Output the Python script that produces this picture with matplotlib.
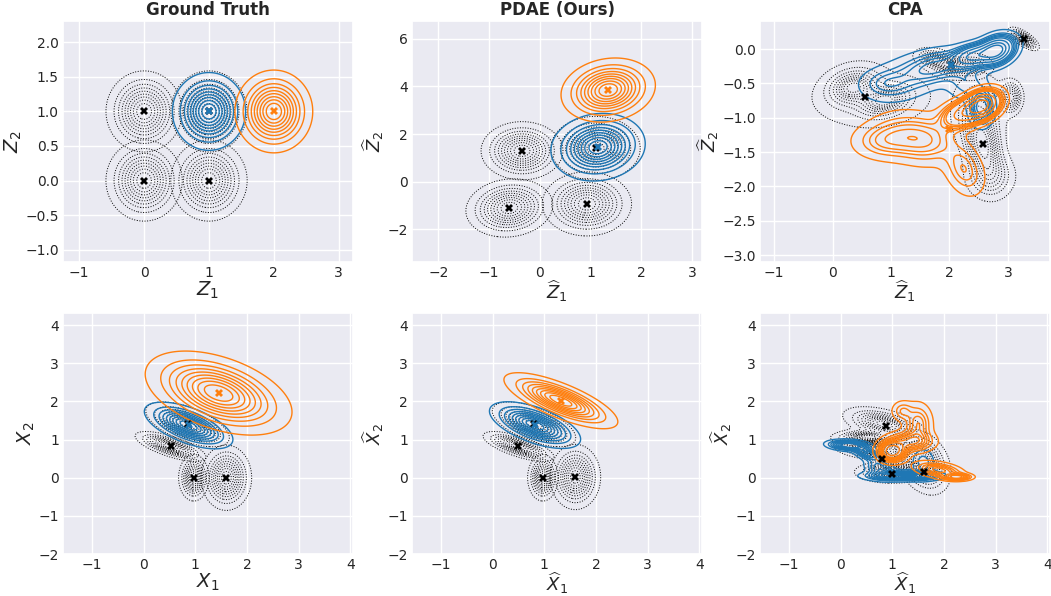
import numpy as np
import matplotlib
matplotlib.use('Agg')
import matplotlib.pyplot as plt
import seaborn as sns

# Mixture components per cluster: (cx, cy, sx, sy, rho, weight)
# --- latent space, ground truth
gtz_black = [
    [(0.0, 1.0, 0.24, 0.24, 0.0, 1.0)],
    [(0.0, 0.0, 0.24, 0.24, 0.0, 1.0)],
    [(1.0, 0.0, 0.24, 0.24, 0.0, 1.0)],
    [(1.0, 1.0, 0.24, 0.24, 0.0, 1.0)],
]
gtz_blue = [(1.0, 1.0, 0.23, 0.23, 0.0, 1.0)]
gtz_orange = [(2.0, 1.0, 0.245, 0.245, 0.0, 1.0)]
gtz_marks_black = [(0, 1), (0, 0), (1, 0), (1, 1)]
gtz_mark_blue = (1.0, 1.0)
gtz_mark_orange = (2.0, 1.0)

# --- latent space, PDAE
pdz_black = [
    [(-0.35, 1.30, 0.33, 0.50, 0.0, 1.0)],
    [(-0.60, -1.10, 0.35, 0.50, 0.1, 1.0)],
    [(0.93, -0.93, 0.36, 0.55, 0.0, 1.0)],
    [(1.10, 1.40, 0.36, 0.55, 0.0, 1.0)],
]
pdz_blue = [(1.15, 1.45, 0.38, 0.58, 0.1, 1.0)]
pdz_orange = [(1.35, 3.85, 0.38, 0.55, 0.15, 1.0)]
pdz_marks_black = [(-0.35, 1.30), (-0.60, -1.10), (0.93, -0.93), (1.10, 1.40)]
pdz_mark_blue = (1.15, 1.45)
pdz_mark_orange = (1.35, 3.85)

# --- latent space, CPA
cpz_black = [
    [(0.35, -0.55, 0.25, 0.15, 0.2, 1.0), (0.90, -0.75, 0.25, 0.13, 0.3, 0.8),
     (0.70, -0.75, 0.55, 0.22, 0.1, 0.6)],
    [(3.27, 0.15, 0.11, 0.07, -0.7, 1.0)],
    [(1.75, -0.15, 0.15, 0.07, -0.3, 1.0), (2.05, -0.25, 0.15, 0.07, 0.0, 1.0),
     (2.40, -0.25, 0.15, 0.08, 0.0, 0.8), (2.10, -0.30, 0.40, 0.15, 0.0, 0.3)],
    [(2.57, -1.40, 0.17, 0.28, -0.3, 1.0), (2.50, -0.90, 0.25, 0.30, 0.0, 0.6),
     (3.05, -0.70, 0.10, 0.12, 0.0, 0.2), (2.70, -1.85, 0.22, 0.18, 0.0, 0.35)],
]
cpz_blue = [
    (2.80, -0.02, 0.18, 0.12, 0.3, 1.0), (2.40, -0.10, 0.20, 0.10, 0.3, 0.6),
    (1.80, -0.25, 0.35, 0.15, 0.3, 0.6), (1.20, -0.45, 0.40, 0.20, 0.3, 0.45),
    (2.55, -0.85, 0.12, 0.15, 0.0, 0.35), (2.30, -0.50, 0.20, 0.15, 0.0, 0.2),
    (0.90, -0.50, 0.25, 0.12, 0.0, 0.15),
]
cpz_orange = [
    (2.55, -0.82, 0.18, 0.12, 0.3, 1.0), (2.20, -0.95, 0.20, 0.12, 0.3, 0.5),
    (1.20, -1.25, 0.35, 0.20, 0.0, 0.5), (1.65, -1.35, 0.30, 0.20, 0.0, 0.4),
    (2.25, -1.75, 0.20, 0.22, -0.3, 0.3), (0.80, -1.35, 0.30, 0.15, 0.0, 0.2),
]
cpz_marks_black = [(0.55, -0.70), (3.27, 0.15), (2.02, -0.23), (2.57, -1.38)]
cpz_mark_blue = (2.02, -0.23)
cpz_mark_orange = (2.00, -1.17)

# --- observed space, ground truth
gtx_black = [
    [(0.52, 0.82, 0.28, 0.16, -0.7, 1.0)],
    [(0.97, 0.00, 0.12, 0.25, 0.0, 1.0)],
    [(1.60, 0.00, 0.20, 0.35, 0.0, 1.0)],
    [(0.85, 1.40, 0.33, 0.24, -0.6, 1.0)],
]
gtx_blue = [(0.87, 1.37, 0.35, 0.25, -0.6, 1.0)]
gtx_orange = [(1.45, 2.22, 0.58, 0.45, -0.45, 1.0)]
gtx_marks_black = [(0.52, 0.82), (0.97, 0.0), (1.60, 0.0), (0.85, 1.40)]
gtx_mark_blue = (0.87, 1.37)
gtx_mark_orange = (1.45, 2.22)

# --- observed space, PDAE
pdx_black = [
    [(0.50, 0.82, 0.28, 0.16, -0.7, 1.0)],
    [(0.97, 0.00, 0.12, 0.25, 0.0, 1.0)],
    [(1.60, 0.02, 0.20, 0.35, 0.0, 1.0)],
    [(0.80, 1.40, 0.33, 0.24, -0.6, 1.0)],
]
pdx_blue = [(0.82, 1.38, 0.36, 0.25, -0.6, 1.0)]
pdx_orange = [(1.32, 2.02, 0.45, 0.30, -0.75, 1.0)]
pdx_marks_black = [(0.50, 0.82), (0.97, 0.0), (1.60, 0.02), (0.80, 1.40)]
pdx_mark_blue = (0.82, 1.38)
pdx_mark_orange = (1.32, 2.02)

# --- observed space, CPA
cpx_black = [
    [(0.85, 1.40, 0.35, 0.20, -0.5, 1.0), (0.50, 1.05, 0.30, 0.10, 0.0, 0.5)],
    [(0.60, 0.75, 0.30, 0.12, -0.3, 1.0)],
    [(1.00, 0.15, 0.30, 0.12, 0.0, 1.0)],
    [(1.60, 0.40, 0.22, 0.35, -0.3, 1.0)],
]
cpx_blue = [
    (0.15, 0.85, 0.20, 0.07, -0.2, 0.8), (0.50, 0.65, 0.15, 0.12, -0.6, 0.5),
    (0.75, 0.25, 0.15, 0.15, -0.3, 0.5), (1.00, 0.05, 0.30, 0.07, 0.0, 0.8),
    (1.50, 0.05, 0.25, 0.07, 0.0, 0.6), (1.60, 0.40, 0.12, 0.20, 0.0, 0.3),
]
cpx_orange = [
    (1.00, 0.70, 0.15, 0.15, 0.0, 1.0), (1.35, 0.95, 0.25, 0.15, 0.0, 0.7),
    (1.50, 1.40, 0.15, 0.30, 0.0, 0.6), (1.90, 0.20, 0.25, 0.12, -0.4, 0.5),
    (2.25, 0.02, 0.15, 0.05, 0.0, 0.2), (1.20, 1.75, 0.12, 0.15, 0.0, 0.15),
]
cpx_marks_black = [(0.87, 1.35), (0.80, 0.50), (1.00, 0.10), (1.62, 0.15)]

titles = ['Ground Truth', 'PDAE (Ours)', 'CPA']
xlabels = ['$Z_1$', r'$\widehat{Z}_1$', r'$\widehat{Z}_1$',
           '$X_1$', r'$\widehat{X}_1$', r'$\widehat{X}_1$']
ylabels = ['$Z_2$', r'$\widehat{Z}_2$', r'$\widehat{Z}_2$',
           '$X_2$', r'$\widehat{X}_2$', r'$\widehat{X}_2$']
limits = [
    ((-1.25, 3.22), (-1.18, 2.31)),
    ((-2.52, 3.2), (-3.37, 6.75)),
    ((-1.24, 3.72), (-3.10, 0.41)),
    ((-1.56, 4.05), (-2.0, 4.32)),
    ((-1.56, 4.05), (-2.0, 4.32)),
    ((-1.56, 4.05), (-2.0, 4.32)),
]
yticks = [
    [-1.0, -0.5, 0.0, 0.5, 1.0, 1.5, 2.0],
    [-2, 0, 2, 4, 6],
    [-3.0, -2.5, -2.0, -1.5, -1.0, -0.5, 0.0],
    [-2, -1, 0, 1, 2, 3, 4],
    [-2, -1, 0, 1, 2, 3, 4],
    [-2, -1, 0, 1, 2, 3, 4],
]

panels = [
    (gtz_black, gtz_blue, gtz_orange, gtz_marks_black, gtz_mark_blue, gtz_mark_orange),
    (pdz_black, pdz_blue, pdz_orange, pdz_marks_black, pdz_mark_blue, pdz_mark_orange),
    (cpz_black, cpz_blue, cpz_orange, cpz_marks_black, cpz_mark_blue, cpz_mark_orange),
    (gtx_black, gtx_blue, gtx_orange, gtx_marks_black, gtx_mark_blue, gtx_mark_orange),
    (pdx_black, pdx_blue, pdx_orange, pdx_marks_black, pdx_mark_blue, pdx_mark_orange),
    (cpx_black, cpx_blue, cpx_orange, cpx_marks_black, None, None),
]

BLUE = '#1f77b4'
ORANGE = '#ff7f0e'


def mixture(X, Y, comps):
    d = np.zeros_like(X)
    for cx, cy, sx, sy, rho, w in comps:
        u = (X - cx) / sx
        v = (Y - cy) / sy
        q = (u * u - 2 * rho * u * v + v * v) / (1 - rho * rho)
        d += w * np.exp(-0.5 * q) / (2 * np.pi * sx * sy * np.sqrt(1 - rho * rho))
    return d


def iso_levels(d, n=10, thresh=0.05):
    # same iso-proportion rule as seaborn's kdeplot
    props = np.linspace(thresh, 1, n)
    vals = np.sort(d.ravel())[::-1]
    cum = np.cumsum(vals) / vals.sum()
    idx = np.searchsorted(cum, 1 - props)
    lv = np.take(vals, idx, mode='clip')
    return np.unique(lv[lv > 0])


def draw_kde(ax, X, Y, comps, color, ls, lw):
    d = mixture(X, Y, comps)
    ax.contour(X, Y, d, levels=iso_levels(d), colors=color,
               linestyles=ls, linewidths=lw)


sns.set_theme(style='darkgrid')
plt.rcParams['font.family'] = ['DejaVu Sans']

fig = plt.figure(figsize=(10.51, 5.96), dpi=100)
col_left = [63, 412, 760]
row_top = [21, 313]
W, H = 290, 241

for i, (blk, blu, org, mb, mbl, mor) in enumerate(panels):
    r, c = divmod(i, 3)
    ax = fig.add_axes([col_left[c] / 1051, (596 - row_top[r] - H) / 596, W / 1051, H / 596])
    (x0, x1), (y0, y1) = limits[i]
    gx = np.linspace(x0 - 1.5, x1 + 1.5, 420)
    gy = np.linspace(y0 - 1.5, y1 + 1.5, 420)
    X, Y = np.meshgrid(gx, gy)

    for comps in blk:
        draw_kde(ax, X, Y, comps, 'black', ':', 0.7)
    draw_kde(ax, X, Y, blu, BLUE, '-', 1.0)
    draw_kde(ax, X, Y, org, ORANGE, '-', 1.0)

    mb = np.array(mb)
    ax.plot(mb[:, 0], mb[:, 1], 'X', color='black', ms=6, mew=0, zorder=5)
    if mbl is not None:
        ax.plot(mbl[0], mbl[1], 'X', color=BLUE, ms=6, mew=0, zorder=5)
    if mor is not None:
        ax.plot(mor[0], mor[1], 'X', color=ORANGE, ms=6, mew=0, zorder=5)

    ax.set_xlim(x0, x1)
    ax.set_ylim(y0, y1)
    ax.set_yticks(yticks[i])
    ax.tick_params(labelsize=10, length=0, pad=3)
    hat = c > 0
    ax.set_xlabel(xlabels[i], fontsize=13 if hat else 14, labelpad=-1 if hat else 0)
    ax.set_ylabel(ylabels[i], fontsize=13 if hat else 14, labelpad=1)
    if r == 0:
        ax.set_title(titles[c], fontsize=12, fontweight='bold', pad=4)

fig.savefig('out.png', dpi=100)
